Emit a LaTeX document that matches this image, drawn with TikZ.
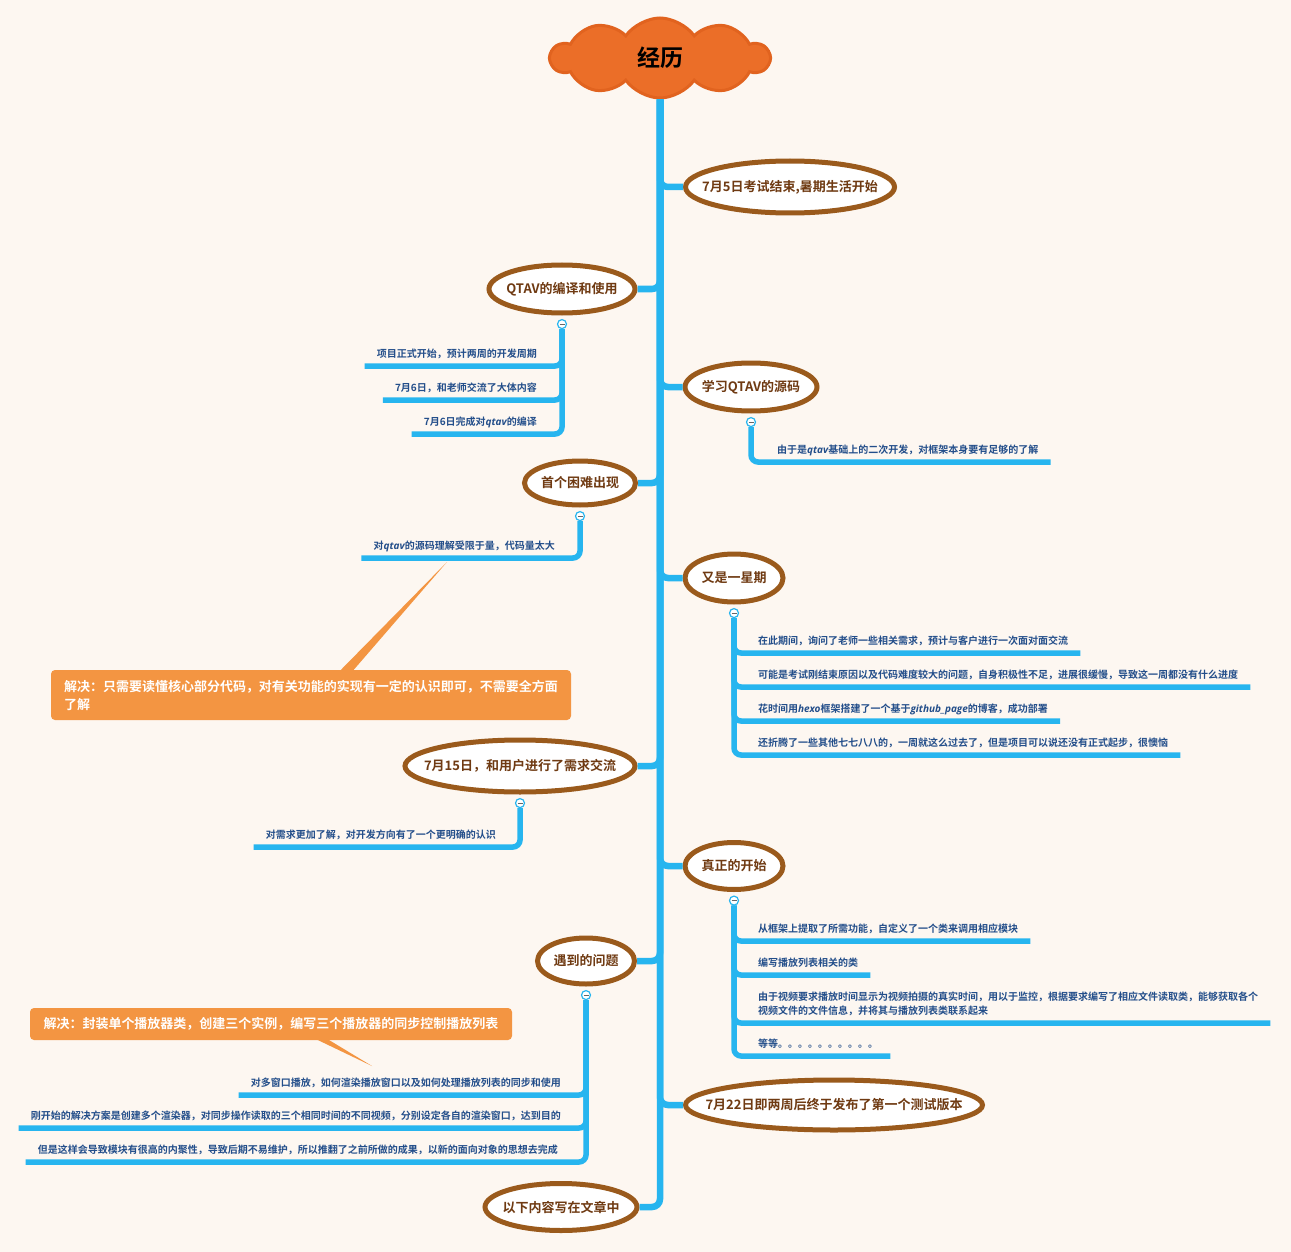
\documentclass[tikz,border=0pt]{standalone}
\usepackage{fontspec}
\setmainfont{Noto Sans CJK SC}[BoldFont={Noto Sans CJK SC Bold}]
\newfontfamily\latit{Open Sans}
\usetikzlibrary{shapes.geometric,shapes.symbols,positioning}

\definecolor{paper}{HTML}{FDF7F1}
\definecolor{trunkblue}{HTML}{27B5EF}
\definecolor{ringbrown}{HTML}{9A5A1C}
\definecolor{topictext}{HTML}{6F3A12}
\definecolor{leaftext}{HTML}{234E8A}
\definecolor{cloudorange}{HTML}{EB6E28}
\definecolor{cloudedge}{HTML}{E1631F}
\definecolor{noteorange}{HTML}{F39542}

\newcommand{\zw}[1]{\makebox[0pt]{#1}}
\newcommand{\itw}[1]{{\latit\bfseries\itshape #1}}

\begin{document}
\begin{tikzpicture}[x=1pt,y=-1pt,
	topic/.style={ellipse,draw=ringbrown,line width=5pt,fill=white,inner sep=0pt,text=topictext,font=\fontsize{13}{15}\selectfont\bfseries},
	leaf/.style={inner xsep=12pt,inner ysep=0pt,text height=9pt,text depth=8pt,text=leaftext,font=\fontsize{10}{14}\selectfont\bfseries},
	fold/.style={circle,draw=trunkblue,line width=1.2pt,fill=white,minimum size=9pt,inner sep=0pt,
		path picture={\draw[line width=.7pt,black!60] ([xshift=-2.5pt]path picture bounding box.center) -- ([xshift=2.5pt]path picture bounding box.center);}},
	trunk/.style={draw=trunkblue,line width=6.5pt,rounded corners=8pt},
	twig/.style={draw=trunkblue,line width=5.5pt,rounded corners=7pt},
	note/.style={fill=noteorange,rounded corners=4pt,text=white,inner xsep=13pt,inner ysep=0pt,font=\fontsize{13}{18}\selectfont\bfseries}]
	\path[use as bounding box,fill=paper] (0,0) rectangle (1291,1252);

	\path (660,  58) node [cloud,cloud puffs=10,cloud puff arc=110,cloud ignores aspect,fill=cloudorange,draw=cloudedge,line width=3pt,minimum width=218pt,minimum height=80pt,inner sep=0pt,font=\fontsize{23}{25}\selectfont\bfseries] (title) {\zw{经历}};
	\path (790, 187) node [topic,minimum width=209pt,minimum height=52pt] (start)   {\zw{7月5日考试结束,暑期生活开始}};
	\path (562, 289) node [topic,minimum width=146pt,minimum height=48pt] (build)   {\zw{QTAV的编译和使用}};
	\path (751, 387) node [topic,minimum width=132pt,minimum height=48pt] (source)  {\zw{学习QTAV的源码}};
	\path (580, 483) node [topic,minimum width=111pt,minimum height=44pt] (hard)    {\zw{首个困难出现}};
	\path (734, 578) node [topic,minimum width=98pt, minimum height=48pt] (week)    {\zw{又是一星期}};
	\path (520, 766) node [topic,minimum width=230pt,minimum height=52pt] (talk)    {\zw{7月15日，和用户进行了需求交流}};
	\path (734, 866) node [topic,minimum width=98pt, minimum height=47pt] (real)    {\zw{真正的开始}};
	\path (586, 961) node [topic,minimum width=97pt, minimum height=46pt] (issue)   {\zw{遇到的问题}};
	\path (834,1105) node [topic,minimum width=297pt,minimum height=50pt] (release) {\zw{7月22日即两周后终于发布了第一个测试版本}};
	\path (561,1207) node [topic,minimum width=152pt,minimum height=47pt] (rest)    {\zw{以下内容写在文章中}};

	\foreach \n in {start,source,week,real,release} \draw[trunk] (title.south) |- (\n.west);
	\foreach \n in {build,hard,talk,issue,rest} \draw[trunk] (title.south) |- (\n.east);

	\node [fold,below=3.5pt of build]  (build-f)  {};
	\node [fold,below=3.5pt of source] (source-f) {};
	\node [fold,below=3.5pt of hard]   (hard-f)   {};
	\node [fold,below=3.5pt of week]   (week-f)   {};
	\node [fold,below=3.5pt of talk]   (talk-f)   {};
	\node [fold,below=3.5pt of real]   (real-f)   {};
	\node [fold,below=3.5pt of issue]  (issue-f)  {};

	\path (549, 366) node [leaf,anchor=south east] (build1) {项目正式开始，预计两周的开发周期};
	\path (549, 400) node [leaf,anchor=south east] (build2) {7月6日，和老师交流了大体内容};
	\path (549, 434) node [leaf,anchor=south east] (build3) {7月6日完成对\itw{qtav}的编译};
	\path (765, 462) node [leaf,anchor=south west] (source1) {由于是\itw{qtav}基础上的二次开发，对框架本身要有足够的了解};
	\path (567, 558) node [leaf,anchor=south east] (hard1) {对\itw{qtav}的源码理解受限于量，代码量太大};
	\path (746, 653) node [leaf,anchor=south west] (week1) {在此期间，询问了老师一些相关需求，预计与客户进行一次面对面交流};
	\path (746, 687) node [leaf,anchor=south west] (week2) {可能是考试刚结束原因以及代码难度较大的问题，自身积极性不足，进展很缓慢，导致这一周都没有什么进度};
	\path (746, 721) node [leaf,anchor=south west] (week3) {花时间用\itw{hexo}框架搭建了一个基于\itw{github\_page}的博客，成功部署};
	\path (746, 755) node [leaf,anchor=south west] (week4) {还折腾了一些其他七七八八的，一周就这么过去了，但是项目可以说还没有正式起步，很懊恼};
	\path (508, 847) node [leaf,anchor=south east] (talk1) {对需求更加了解，对开发方向有了一个更明确的认识};
	\path (746, 941) node [leaf,anchor=south west] (real1) {从框架上提取了所需功能，自定义了一个类来调用相应模块};
	\path (746, 975) node [leaf,anchor=south west] (real2) {编写播放列表相关的类};
	\path (746,1023) node [leaf,anchor=south west,align=left] (real3) {由于视频要求播放时间显示为视频拍摄的真实时间，用以于监控，根据要求编写了相应文件读取类，能够获取各个\\视频文件的文件信息，并将其与播放列表类联系起来};
	\path (746,1056) node [leaf,anchor=south west] (real4) {等等。。。。。。。。。。};
	\path (573,1095) node [leaf,anchor=south east] (issue1) {对多窗口播放，如何渲染播放窗口以及如何处理播放列表的同步和使用};
	\path (573,1128) node [leaf,anchor=south east] (issue2) {刚开始的解决方案是创建多个渲染器，对同步操作读取的三个相同时间的不同视频，分别设定各自的渲染窗口，达到目的};
	\path (570,1162) node [leaf,anchor=south east] (issue3) {但是这样会导致模块有很高的内聚性，导致后期不易维护，所以推翻了之前所做的成果，以新的面向对象的思想去完成};

	\foreach \n in {build1,build2,build3} \draw[twig] (build-f.south) |- (\n.south west);
	\draw[twig] (source-f.south) |- (source1.south east);
	\draw[twig] (hard-f.south) |- (hard1.south west);
	\foreach \n in {week1,week2,week3,week4} \draw[twig] (week-f.south) |- (\n.south east);
	\draw[twig] (talk-f.south) |- (talk1.south west);
	\foreach \n in {real1,real2,real3,real4} \draw[twig] (real-f.south) |- (\n.south east);
	\foreach \n in {issue1,issue2,issue3} \draw[twig] (issue-f.south) |- (\n.south west);

	\path (311, 695) node [note,text width=494pt,align=left,minimum height=50pt] (fix1) {解决：只需要读懂核心部分代码，对有关功能的实现有一定的认识即可，不需要全方面\\了解};
	\path (271,1024) node [note,minimum width=482pt,minimum height=32pt] (fix2) {解决：封装单个播放器类，创建三个实例，编写三个播放器的同步控制播放列表};
	\coordinate (fix1-tip) at (447, 562);
	\coordinate (fix2-tip) at (372,1066);
	\fill[noteorange] ([xshift=28pt,yshift=-2pt]fix1.north) -- (fix1-tip) -- ([xshift=41pt,yshift=-2pt]fix1.north) -- cycle;
	\fill[noteorange] ([xshift=43pt,yshift=2pt]fix2.south) -- (fix2-tip) -- ([xshift=55pt,yshift=2pt]fix2.south) -- cycle;
\end{tikzpicture}
\end{document}
